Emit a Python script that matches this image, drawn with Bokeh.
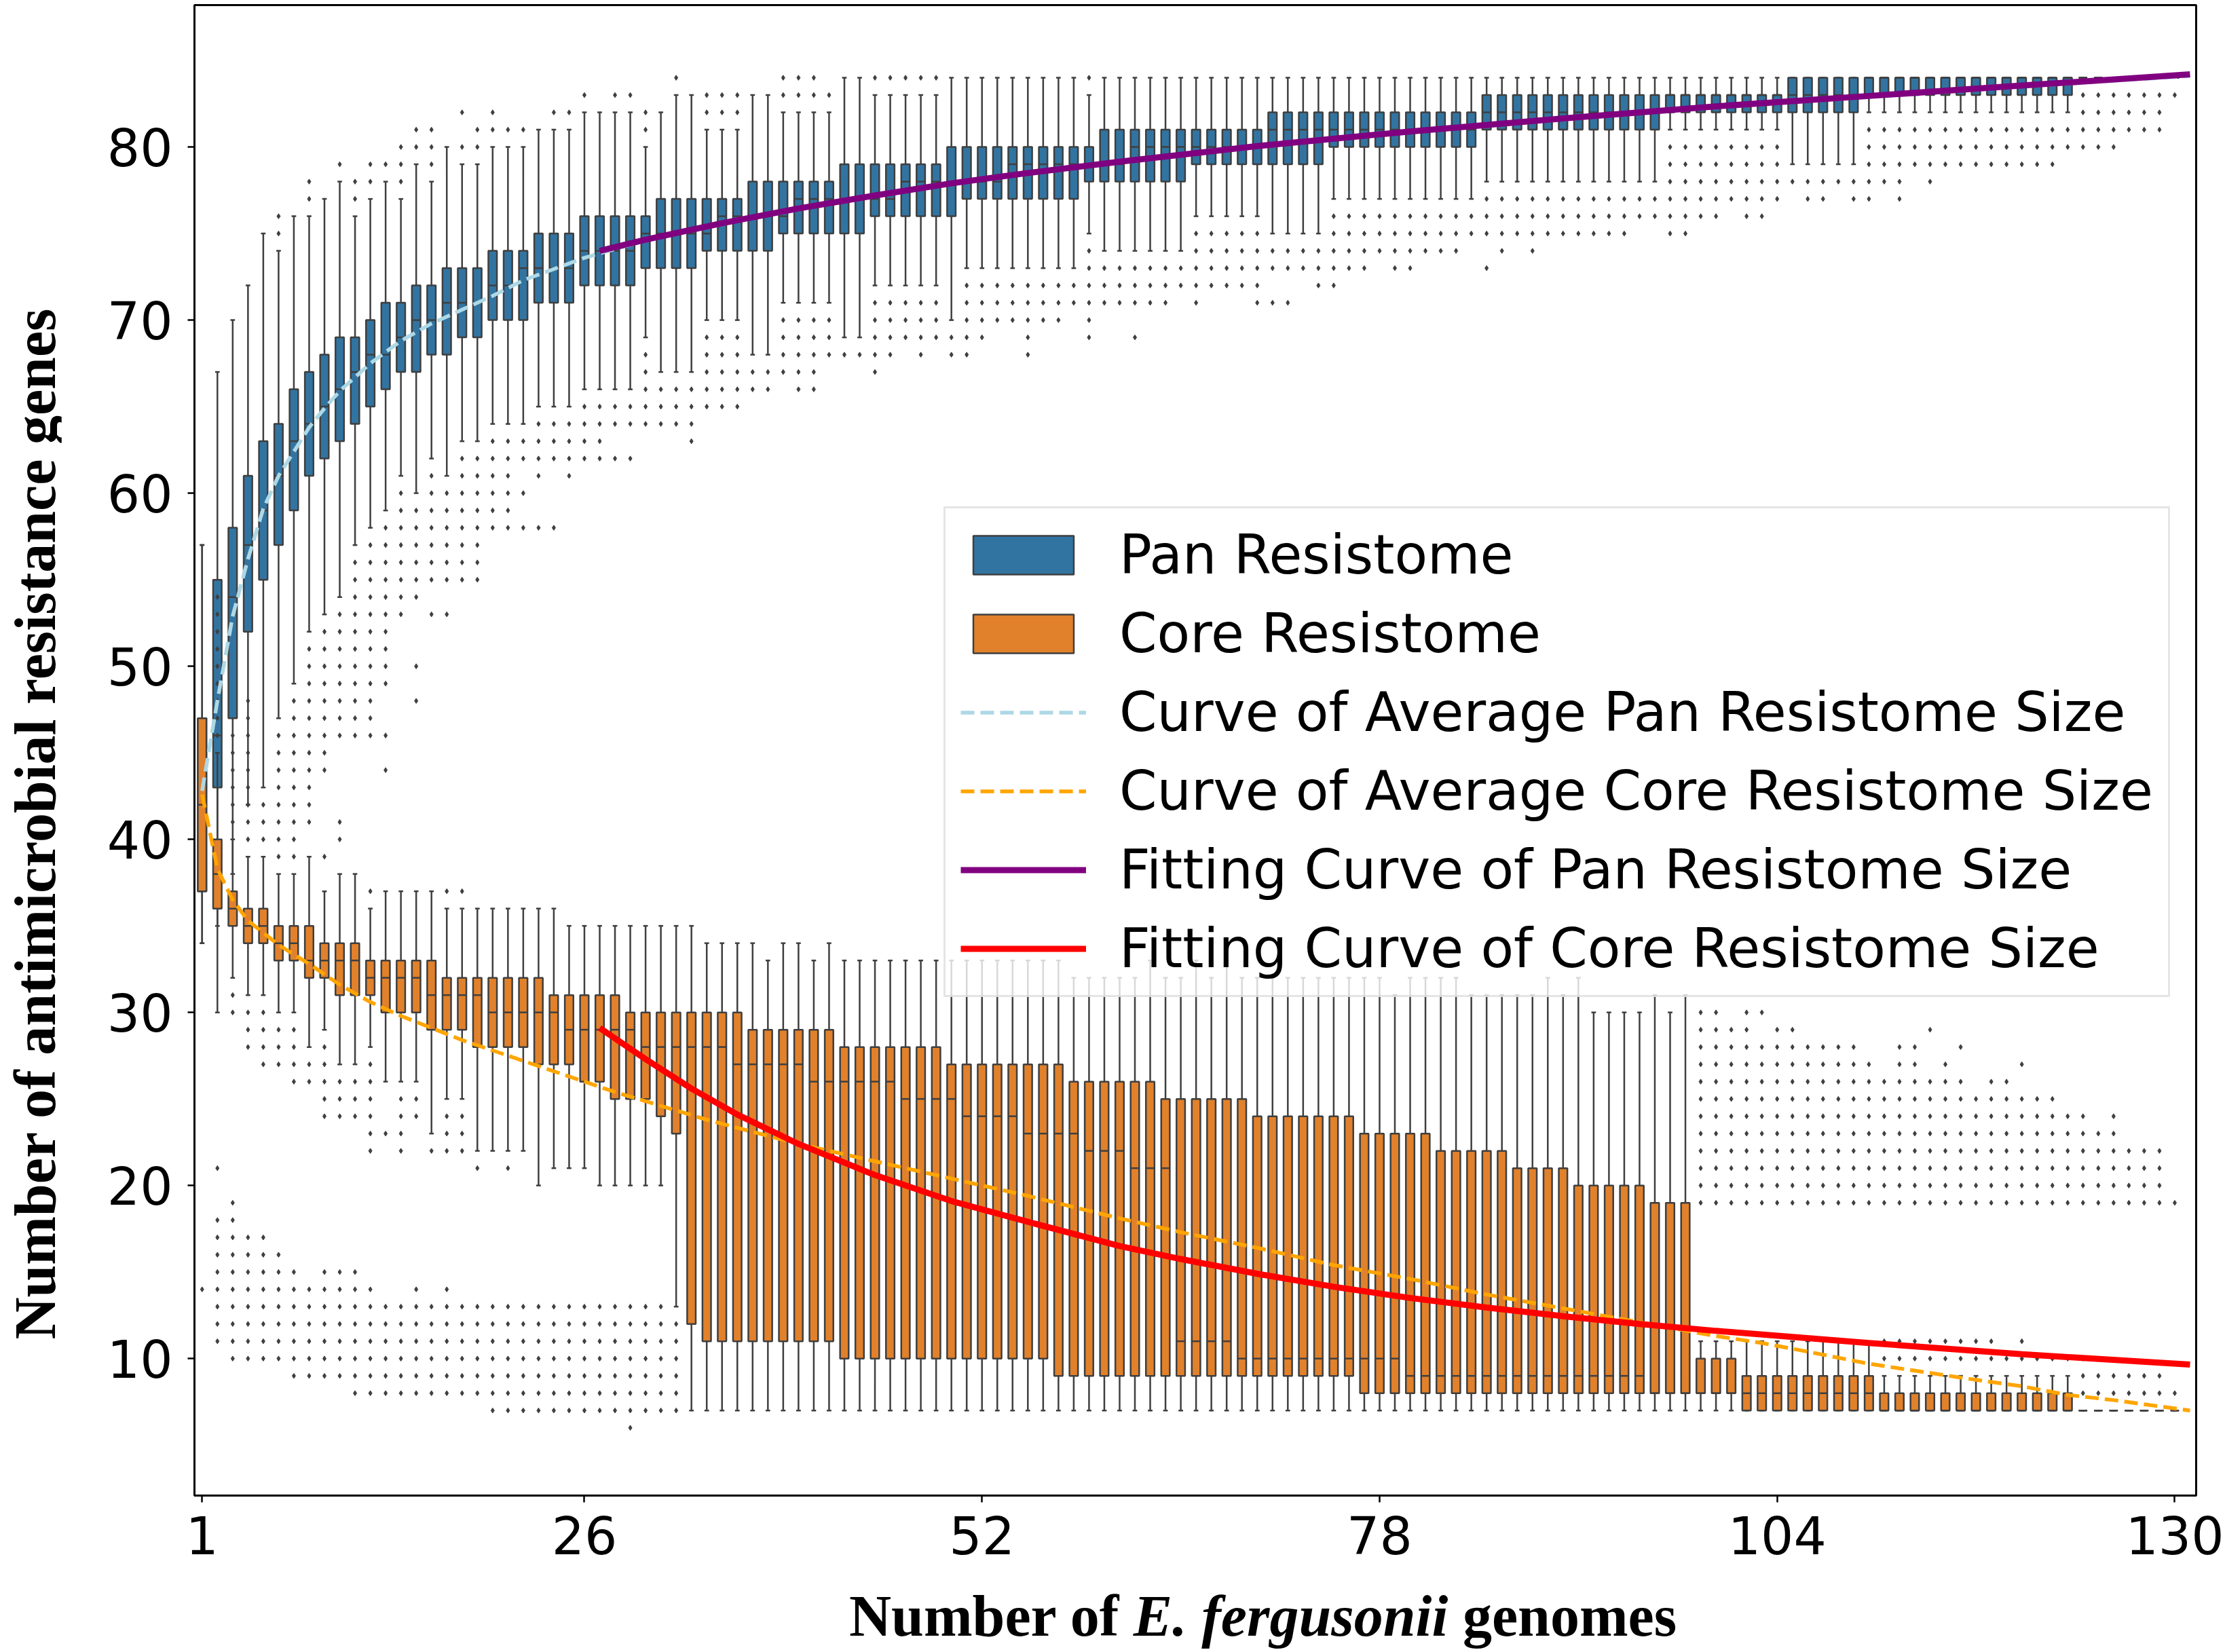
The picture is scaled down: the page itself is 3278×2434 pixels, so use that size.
import numpy as np
from bokeh.plotting import figure
from bokeh.models import Range1d, FixedTicker, Legend, LegendItem, ColumnDataSource, Div
from bokeh.layouts import row, column
from bokeh.embed import file_html
from bokeh.resources import INLINE

# ---------------- data ----------------
genomes = list(range(1, 131))

pan_q1 = [37,43,47,52,55,57,59,61,62,63, 64,65,66,67,67,68,68,69,69,70,
          70,70,71,71,71,72,72,72,72,73, 73,73,73,74,74,74,74,74,75,75,
          75,75,75,75,76,76,76,76,76,76, 77,77,77,77,77,77,77,77,78,78,
          78,78,78,78,78,79,79,79,79,79, 79,79,79,79,80,80,80,80,80,80,
          80,80,80,80,81,81,81,81,81,81, 81,81,81,81,81,81,82,82,82,82,
          82,82,82,82,82,82,82,82,82,83, 83,83,83,83,83,83,83,83,83,83,
          83,83,83,84,84,84,84,84,84,84]
pan_med = [42,46,54,57,59,61,63,64,65,66, 67,68,68,69,70,70,71,71,71,72,
           72,73,73,73,73,74,74,74,74,75, 75,75,75,75,76,76,76,76,76,77,
           77,77,77,77,77,77,78,78,78,78, 78,78,78,79,79,79,79,79,79,79,
           79,80,80,80,80,80,80,80,80,80, 81,81,81,81,81,81,81,81,81,81,
           81,81,81,81,82,82,82,82,82,82, 82,82,82,82,82,82,83,83,83,83,
           83,83,83,83,83,83,83,83,83,84, 84,84,84,84,84,84,84,84,84,84,
           84,84,84,84,84,84,84,84,84,84]
pan_q3 = [47,55,58,61,63,64,66,67,68,69, 69,70,71,71,72,72,73,73,73,74,
          74,74,75,75,75,76,76,76,76,76, 77,77,77,77,77,77,78,78,78,78,
          78,78,79,79,79,79,79,79,79,80, 80,80,80,80,80,80,80,80,80,81,
          81,81,81,81,81,81,81,81,81,81, 82,82,82,82,82,82,82,82,82,82,
          82,82,82,82,83,83,83,83,83,83, 83,83,83,83,83,83,83,83,83,83,
          83,83,83,83,84,84,84,84,84,84, 84,84,84,84,84,84,84,84,84,84,
          84,84,84,84,84,84,84,84,84,84]
pan_wlo = [34,35,38,42,43,47,49,52,53,54, 57,58,59,61,60,62,61,63,63,64,
           64,64,65,65,65,66,66,66,66,69, 67,67,67,70,70,70,68,68,71,71,
           71,71,69,69,72,72,72,72,72,70, 73,73,73,73,73,73,73,73,75,74,
           74,74,74,74,74,76,76,76,76,76, 75,75,75,75,77,77,77,77,77,77,
           77,77,77,77,78,78,78,78,78,78, 78,78,78,78,78,78,81,81,81,81,
           81,81,81,81,79,79,79,79,79,82, 82,82,82,82,82,82,82,82,82,82,
           82,82,82,84,84,84,84,84,84,84]
pan_whi = [57,67,70,72,75,74,76,76,77,78, 76,77,78,77,79,78,80,79,79,80,
           80,80,81,81,81,82,82,82,82,80, 82,83,83,81,81,81,83,83,82,82,
           82,82,84,84,83,83,83,83,83,84, 84,84,84,84,84,84,84,84,83,84] + [84] * 70

pan_hi_out = {6: "75-76", 8: "77-78", 10: "79", 11: "77-78", 12: "78-79", 13: "79",
              14: "78-80", 15: "80-81", 16: "79-81", 18: "80,82", 19: "80-81",
              20: "81-82", 21: "81", 22: "81", 24: "82", 25: "82", 26: "83", 28: "83",
              29: "83", 30: "81-82", 32: "84", 34: "82-83", 35: "82-83", 36: "82-83",
              39: "83-84", 40: "83-84", 41: "83-84", 42: "83", 45: "84", 46: "84",
              47: "84", 48: "84", 49: "84", 59: "84"}
pan_lo_out = {5: "40-42", 6: "39-46", 7: "39-48", 8: "41-51", 9: "44-52", 10: "40-41,46-53",
              11: "46-56", 12: "46-57", 13: "44,46,49-58", 14: "53-60", 15: "48,50,54-59",
              16: "53,55-61", 17: "53,55-60", 18: "55-62", 19: "55-62", 20: "58-63",
              21: "58-63", 22: "58,60,62-63", 23: "58,61-64", 24: "58,62-64", 25: "61-64",
              26: "62-65", 27: "62-65", 28: "62,64-65", 29: "62,64-65", 30: "64-68",
              31: "64-66", 32: "64-66", 33: "63-66", 34: "65-69", 35: "65-69", 36: "65-69",
              37: "66-67", 38: "66-67", 39: "67-70", 40: "66-70", 41: "66-70", 42: "68-70",
              43: "68", 44: "68", 45: "67-71", 46: "68-71", 47: "69-71", 48: "68-71",
              49: "69-71", 50: "68-69", 51: "68-72", 52: "69-72", 53: "70-72", 54: "70-72",
              55: "68-72", 56: "70-72", 57: "70-72", 58: "71-72", 59: "69-74", 60: "71-73",
              61: "71-73", 62: "69,71-73", 63: "71-73", 64: "71-73", 65: "72-73",
              66: "71-75", 67: "72-75", 68: "72-75", 69: "72-75", 70: "71-75",
              71: "71,73-74", 72: "71,73-74", 73: "73-74", 74: "72-74", 75: "72-76",
              76: "73-76", 77: "73-76", 78: "74-76", 79: "73-76", 80: "73-76", 81: "74-76",
              82: "74-76", 83: "74-76", 84: "75-76", 85: "73,75-77", 86: "74-77",
              87: "75-77", 88: "74-77", 89: "75-77", 90: "75-77", 91: "75-77", 92: "75-77",
              93: "75-77", 94: "75-77", 95: "76-77", 96: "76-77", 97: "75-80", 98: "75-80",
              99: "76-80", 100: "76-80", 101: "77-80", 102: "76-80", 103: "76-80",
              104: "77-80", 105: "78", 106: "77-78", 107: "77-78", 108: "78", 109: "77-78",
              110: "77-81", 111: "78-81", 112: "77-81", 113: "79-81", 114: "78-81",
              115: "79-81", 116: "79-81", 117: "79-81", 118: "79-81", 119: "79-81",
              120: "79-81", 121: "79-81", 122: "79-81", 123: "80-81", 124: "80-83",
              125: "80-83", 126: "80-83", 127: "81-83", 128: "81-83", 129: "81-83", 130: "83"}

core_q1 = [37,36,35,34,34,33,33,32,32,31, 31,31,30,30,30,29,29,29,28,28,
           28,28,27,27,27,26,26,25,25,25, 24,23,12,11,11,11,11,11,11,11,
           11,11,10,10,10,10,10,10,10,10, 10,10,10,10,10,10,9,9,9,9,
           9,9,9,9,9,9,9,9,9,9, 9,9,9,9,9,9,8,8,8,8,
           8,8,8,8,8,8,8,8,8,8, 8,8,8,8,8,8,8,8,8,8,
           8,7,7,7,7,7,7,7,7,7] + [7] * 20
core_med = [42,38,36,35,35,34,34,33,33,33, 33,32,32,32,32,31,31,31,31,30,
            30,30,30,30,29,29,29,29,29,28, 28,28,28,28,28,27,27,27,27,27,
            26,26,26,26,26,26,25,25,25,25, 24,24,24,24,23,23,23,23,22,22,
            22,21,21,21,11,11,11,11,10,10, 10,10,10,10,10,10,10,10,10,9,
            9,9,9,9,9,9,9,9,9,9, 9,9,9,9,9,8,8,8,8,8,
            8,8,8,8,8,8,8,8,8,8] + [7] * 20
core_q3 = [47,40,37,36,36,35,35,35,34,34, 34,33,33,33,33,33,32,32,32,32,
           32,32,32,31,31,31,31,31,30,30, 30,30,30,30,30,30,29,29,29,29,
           29,29,28,28,28,28,28,28,28,27, 27,27,27,27,27,27,27,26,26,26,
           26,26,26,25,25,25,25,25,25,24, 24,24,24,24,24,24,23,23,23,23,
           23,22,22,22,22,22,21,21,21,21, 20,20,20,20,20,19,19,19,10,10,
           10,9,9,9,9,9,9,9,9,9, 8,8,8,8,8,8,8,8,8,8,
           8,8,8,7,7,7,7,7,7,7]
core_wlo = [34,30,32,31,31,30,30,28,29,27, 27,28,26,26,26,23,25,25,22,22,
            22,22,20,21,21,21,20,20,20,20, 20,13] + [7] * 98
core_whi = [57,45,40,39,39,38,38,39,37,38, 38,36,37,37,37,37,36,36,36,36,
            36,36,36,36,35,35,35,35,35,35, 35,35,35,34,34,34,34,33,34,34,
            33,34,33,33,33,33,33,33,33,33, 33,33,33,33,33,33,33,32,32,32,
            32,32,33,32,32,33,32,33,32,32, 32,32,32,32,32,32,32,32,31,32,
            32,32,32,31,31,31,31,31,32,31, 32,30,30,30,30,31,30,31,11,11,
            11,11,11,11,11,11,11,11,11,11, 9,9,9,9,9,9,9,9,9,9,
            9,9,9,7,7,7,7,7,7,7]

core_hi_out = {2: "46-54", 3: "41-46", 4: "40-48", 9: "39", 12: "37", 17: "37", 18: "37",
               99: "19-30", 100: "19-30", 101: "19-29", 102: "19-30", 103: "19-28,30",
               104: "19-29", 105: "19-29", 106: "19-28", 107: "19-28", 108: "19-28",
               109: "19-28", 110: "19-27", 111: "10-11,19-26", 112: "10-11,19-28",
               113: "10-11,19-28", 114: "10-11,19-26,29", 115: "10-11,19-27",
               116: "10-11,19-26,28", 117: "10-11,19-25", 118: "10-11,19-26",
               119: "10,19-26", 120: "10-11,19-25,27", 121: "10,19-25", 122: "10,19-25",
               123: "10,19-24", 124: "8-10,19-24", 125: "8-10,19-23", 126: "8-9,19-24",
               127: "8-9,19-22", 128: "8-9,19-22", 129: "8-9,19-22", 130: "8,19"}
core_lo_out = {1: "14", 2: "11-18,21", 3: "10-19,30-31", 4: "10-17,28-30", 5: "10-17,27-30",
               6: "10-16,27-29", 7: "9-15,26-29", 8: "9-14,26-27", 9: "9-15,24-28",
               10: "9-15,24-26", 11: "8-15,24-26", 12: "8-14,22-27", 13: "8-13,23",
               14: "8-13,22-25", 15: "8-14,24-25", 16: "8-13,22", 17: "8-14,22-24",
               18: "8-13,22-24", 19: "8-13,21", 20: "7-13", 21: "7-13,21", 22: "7-13",
               23: "7-13", 24: "7-13", 25: "7-13", 26: "7-13", 27: "7-13", 28: "7-13",
               29: "6-13", 30: "7-13", 31: "7-13", 32: "7-12"}

pan_mean_x = [1,2,3,4,5,6,7,8,9,10,11,12,14,16,18,20,22,26,30,35,40,45,50,55,61,70,80,90,100,110,120,131]
pan_mean_y = [42.8,48.0,52.9,56.2,59.1,61.0,62.4,63.8,64.9,65.9,66.7,67.5,68.8,69.8,70.6,71.4,72.3,
              73.6,74.6,75.6,76.4,77.2,77.9,78.5,79.1,80.0,80.9,81.6,82.3,82.9,83.5,84.1]
core_mean_x = [1,2,3,4,5,6,8,10,12,14,16,18,20,22,25,28,31,34,37,40,45,50,55,61,65,70,75,80,85,
               90,95,100,103,106,110,113,116,120,123,126,131]
core_mean_y = [42.6,38.3,36.5,35.3,34.6,33.9,32.8,31.6,30.6,29.8,29.1,28.4,27.8,27.2,26.3,25.4,
               24.6,23.8,23.1,22.4,21.4,20.4,19.4,18.1,17.3,16.4,15.4,14.6,13.7,12.9,12.1,11.3,
               10.9,10.4,9.7,9.3,8.9,8.4,7.9,7.6,7.0]
pan_fit_x = [27,30,35,40,45,50,55,61,70,80,90,100,110,120,131]
pan_fit_y = [74.0,74.65,75.6,76.45,77.2,77.9,78.5,79.15,80.05,80.9,81.65,82.35,82.95,83.55,84.2]
core_fit_x = [27,30,33,36,40,45,50,55,61,65,70,75,80,85,90,95,100,110,120,131]
core_fit_y = [29.1,27.3,25.6,24.1,22.4,20.6,19.1,17.9,16.5,15.75,14.9,14.15,13.5,12.95,12.45,
              12.0,11.6,10.9,10.25,9.65]

x_ticks = [1, 26, 52, 78, 104, 130]
y_ticks = [10, 20, 30, 40, 50, 60, 70, 80]
x_title = ("Number of ", "E. fergusonii", " genomes")
y_title = "Number of antimicrobial resistance genes"

# ---------------- styling ----------------
PAN_COLOR = "#3274a1"
CORE_COLOR = "#e1812c"
EDGE = "#3f3f3f"
BW = 0.56
CW = 0.30
LW = 2.5


def expand(spec):
    vals = []
    for part in spec.split(","):
        if "-" in part:
            a, b = part.split("-")
            vals += list(range(int(a), int(b) + 1))
        else:
            vals.append(int(part))
    return vals


YLAB_W = 90
FIG_W = 3186
FIG_H = 2328
XLAB_H = 104

p = figure(width=FIG_W, height=FIG_H, output_backend="svg", toolbar_location=None, title=None,
           x_range=Range1d(0.5, 131.4), y_range=Range1d(2.085, 88.2),
           min_border_left=196, min_border_right=41, min_border_top=7, min_border_bottom=125,
           margin=0)
p.background_fill_color = "white"
p.border_fill_color = "white"
p.grid.visible = False
p.outline_line_color = "black"
p.outline_line_width = 3


def draw_boxes(q1, med, q3, wlo, whi, fill, hi_out, lo_out):
    x = np.array(genomes, dtype=float)
    src = ColumnDataSource(dict(x=x, q1=q1, med=med, q3=q3, wlo=wlo, whi=whi,
                                bx0=x - BW / 2, bx1=x + BW / 2, cx0=x - CW / 2, cx1=x + CW / 2))
    p.segment(x0="x", y0="q3", x1="x", y1="whi", source=src, line_color=EDGE, line_width=LW)
    p.segment(x0="x", y0="q1", x1="x", y1="wlo", source=src, line_color=EDGE, line_width=LW)
    p.segment(x0="cx0", y0="whi", x1="cx1", y1="whi", source=src, line_color=EDGE, line_width=LW)
    p.segment(x0="cx0", y0="wlo", x1="cx1", y1="wlo", source=src, line_color=EDGE, line_width=LW)
    r = p.vbar(x="x", width=BW, bottom="q1", top="q3", source=src, fill_color=fill,
               line_color=EDGE, line_width=LW)
    p.segment(x0="bx0", y0="med", x1="bx1", y1="med", source=src, line_color=EDGE, line_width=LW)
    fx, fy = [], []
    for d in (hi_out, lo_out):
        for n, spec in d.items():
            for v in expand(spec):
                fx.append(n)
                fy.append(v)
    p.scatter(fx, fy, marker="diamond", size=7.5, fill_color=EDGE, line_color=EDGE, line_width=1)
    return r


r_pan = draw_boxes(pan_q1, pan_med, pan_q3, pan_wlo, pan_whi, PAN_COLOR, pan_hi_out, pan_lo_out)
r_core = draw_boxes(core_q1, core_med, core_q3, core_wlo, core_whi, CORE_COLOR, core_hi_out, core_lo_out)

r_pm = p.line(pan_mean_x, pan_mean_y, line_color="lightblue", line_width=5.5, line_dash="20 9")
r_cm = p.line(core_mean_x, core_mean_y, line_color="orange", line_width=5.5, line_dash="20 9")
r_pf = p.line(pan_fit_x, pan_fit_y, line_color="purple", line_width=9)
r_cf = p.line(core_fit_x, core_fit_y, line_color="red", line_width=9)

# axes
p.xaxis.ticker = FixedTicker(ticks=x_ticks)
p.yaxis.ticker = FixedTicker(ticks=y_ticks)
for ax in (p.xaxis[0], p.yaxis[0]):
    ax.major_label_text_font = "DejaVu Sans"
    ax.major_label_text_font_size = "76px"
    ax.major_label_text_color = "black"
    ax.major_tick_out = 10
    ax.major_tick_in = 0
    ax.major_tick_line_width = 2.5
    ax.major_tick_line_color = "black"
    ax.minor_tick_line_color = None
    ax.axis_line_color = "black"
    ax.axis_line_width = 3
p.xaxis.major_label_standoff = 20
p.yaxis.major_label_standoff = 22

legend = Legend(items=[
    LegendItem(label="Pan Resistome", renderers=[r_pan]),
    LegendItem(label="Core Resistome", renderers=[r_core]),
    LegendItem(label="Curve of Average Pan Resistome Size", renderers=[r_pm]),
    LegendItem(label="Curve of Average Core Resistome Size", renderers=[r_cm]),
    LegendItem(label="Fitting Curve of Pan Resistome Size", renderers=[r_pf]),
    LegendItem(label="Fitting Curve of Core Resistome Size", renderers=[r_cf]),
], location=(1104, 734))
legend.label_text_font = "DejaVu Sans"
legend.label_text_font_size = "79.5px"
legend.label_text_color = "black"
legend.glyph_width = 185
legend.glyph_height = 71
legend.label_standoff = 49
legend.padding = 22
legend.spacing = 23
legend.margin = 0
legend.border_line_color = "#cccccc"
legend.border_line_width = 3
legend.background_fill_color = "white"
legend.background_fill_alpha = 0.8
p.add_layout(legend)

# axis titles (bold serif, species name in italics) as HTML text
FONT_CSS = ("font-family:'Liberation Serif',serif;font-weight:bold;font-size:86px;"
            "color:black;white-space:nowrap;")
xlab = Div(width=FIG_W, height=XLAB_H, margin=0,
           text=('<div style="position:relative;width:%dpx;height:%dpx;">'
                 '<div style="position:absolute;left:1161px;top:10px;line-height:86px;%s">'
                 '%s<i>%s</i>%s</div></div>'
                 % (FIG_W, XLAB_H, FONT_CSS, x_title[0], x_title[1], x_title[2])))
ylab = Div(width=YLAB_W, height=FIG_H + XLAB_H, margin=0,
           text=('<div style="position:relative;width:%dpx;height:%dpx;">'
                 '<div style="position:absolute;left:2px;top:1994px;width:1560px;height:100px;'
                 'line-height:100px;text-align:center;transform-origin:0 0;transform:rotate(-90deg);%s">'
                 '%s</div></div>'
                 % (YLAB_W, FIG_H + XLAB_H, FONT_CSS, y_title)))

layout = row(ylab, column(p, xlab, spacing=0), spacing=0)
open("out.html", "w").write(file_html(layout, INLINE))
